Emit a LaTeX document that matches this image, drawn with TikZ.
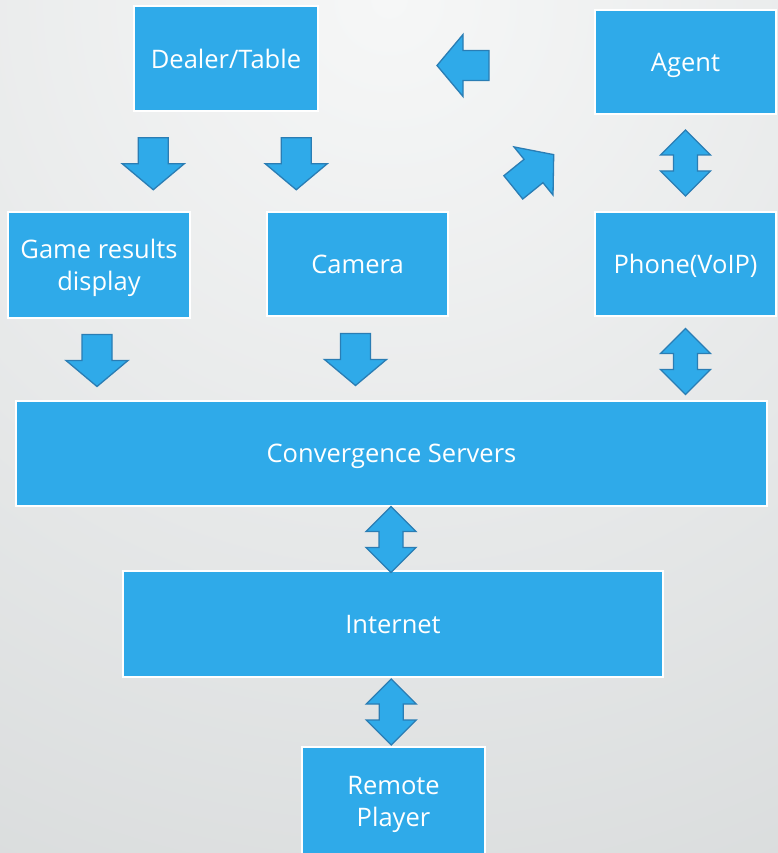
\documentclass[tikz,border=0pt]{standalone}
\usepackage{fontspec}
\setmainfont{Open Sans}
\usetikzlibrary{calc,positioning}
\definecolor{boxblue}{HTML}{2FAAE9}
\definecolor{arrowedge}{HTML}{2A7DB4}
\definecolor{bgtop}{HTML}{F6F7F7}
\definecolor{bgbottom}{HTML}{C3C7C8}
\tikzset{
  box/.style={rectangle, fill=boxblue, draw=white, line width=1.5pt, text=white,
    inner sep=0pt, align=center, text depth=0pt, font=\fontsize{25.5}{32}\selectfont},
  blkarr/.pic={
    \draw[fill=boxblue, draw=arrowedge, line width=1.3pt]
      (-26,-15) -- (0,-15) -- (0,-31) -- (26,0) -- (0,31) -- (0,15) -- (-26,15) -- cycle;
  },
  dblarr/.pic={
    \draw[fill=boxblue, draw=arrowedge, line width=1.3pt]
      (-33,0) -- (-8,-25) -- (-8,-12) -- (8,-12) -- (8,-25) -- (33,0)
      -- (8,25) -- (8,12) -- (-8,12) -- (-8,25) -- cycle;
  }
}

\begin{document}
\begin{tikzpicture}[x=1pt,y=-1pt]
  \useasboundingbox (0,0) rectangle (778,853);
  % background
  \begin{scope}
    \clip (0,0) rectangle (778,853);
    \shade[inner color=bgtop, outer color=bgbottom] (389,0) circle (1750);
  \end{scope}

  \node[box, minimum width=184, minimum height=105] (dealer) at (226,58.5) {Dealer/Table};
  \node[box, minimum width=181, minimum height=104] (agent) at (685.5,62) {Agent};
  \node[box, minimum width=182, minimum height=106] (game) at (99,265) {Game results\\display};
  \node[box, minimum width=181, minimum height=104] (camera) at (357.5,264) {Camera};
  \node[box, minimum width=181, minimum height=104] (phone) at (685.5,264) {Phone(VoIP)};
  \node[box, minimum width=751, minimum height=105] (conv) at (391.5,453.5) {Convergence Servers};
  \node[box, minimum width=540, minimum height=106] (internet) at (393,624) {Internet};
  \node[box, minimum width=183, minimum height=108] (remote) at (393.5,801) {Remote\\Player};

  % arrows
  \pic[rotate=-90] at ($(dealer.south west)+(20,52)$) {blkarr};
  \pic[rotate=-90] at ($(dealer.south west)+(163,52)$) {blkarr};
  \pic[rotate=-90] at ($(game.south)!0.5!(game.south|-conv.north)+(-2,1)$) {blkarr};
  \pic[rotate=-90] at ($(camera.south)!0.5!(camera.south|-conv.north)+(-2,1)$) {blkarr};
  \pic[rotate=180] at (463,65.5) {blkarr};
  \pic[rotate=39] at (533.5,171) {blkarr};
  \pic[rotate=90] at ($(agent.south)!0.5!(phone.north)$) {dblarr};
  \pic[rotate=90] at ($(phone.south)!0.5!(phone.south|-conv.north)+(0,3)$) {dblarr};
  \pic[rotate=90] at ($(internet.north|-conv.south)!0.5!(internet.north)+(-2,1)$) {dblarr};
  \pic[rotate=90] at ($(internet.south)!0.5!(remote.north)+(-2,0)$) {dblarr};
\end{tikzpicture}
\end{document}
